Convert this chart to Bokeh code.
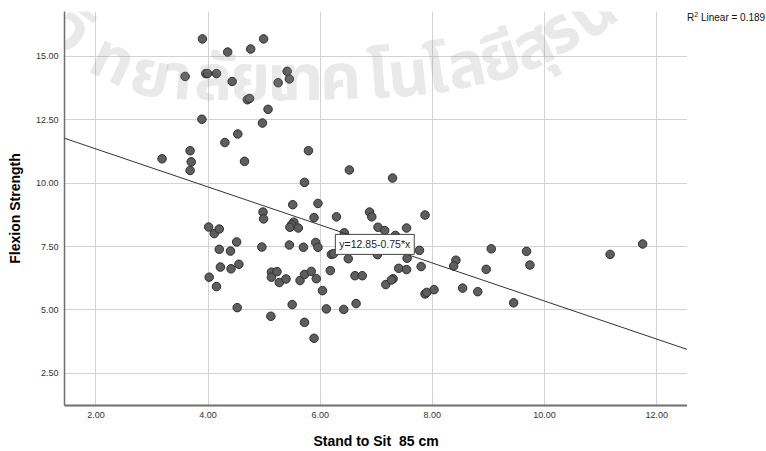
import math
from bokeh.plotting import figure
from bokeh.models import Slope, Label, Range1d, FixedTicker, PrintfTickFormatter, Div
from bokeh.layouts import row
from bokeh.embed import file_html
from bokeh.resources import INLINE

# ---- data ----
stand_to_sit = [
    3.18, 3.59, 3.68, 3.70, 3.68, 3.89, 3.90, 3.96, 3.99, 4.15,
    4.30, 4.35, 4.43, 4.53, 4.65, 4.70, 4.74, 4.76, 4.97, 4.99,
    5.07, 5.25, 5.41, 5.45, 5.72, 5.79, 6.52, 7.29,
    4.98, 4.99, 5.51, 5.96, 5.89, 6.29, 6.88, 6.92, 7.87, 5.53,
    5.49, 5.46, 5.61, 6.43, 4.01, 4.11, 4.20, 4.51, 4.20, 4.40,
    4.96, 4.22, 4.41, 4.55, 4.02, 4.15, 4.52, 5.12, 5.13, 5.13,
    5.23, 5.27, 5.39, 5.50, 5.45, 5.70, 5.64, 5.72, 5.84, 5.72,
    5.89, 5.92, 5.96, 5.93, 6.04, 6.11, 6.18, 6.20, 6.24, 6.42,
    6.50, 6.62, 6.64, 6.75, 7.03, 7.02, 7.15, 7.17, 7.34, 7.54,
    7.77, 7.55, 7.40, 7.54, 7.80, 7.30, 7.27, 7.87, 7.90, 8.03,
    8.42, 8.38, 8.54, 8.81, 8.96, 9.05, 9.45, 9.68, 9.74, 11.17,
    11.75,
]
flexion_strength = [
    10.96, 14.21, 11.28, 10.84, 10.50, 12.52, 15.69, 14.32, 14.32, 14.32,
    11.60, 15.17, 14.01, 11.94, 10.86, 13.29, 13.34, 15.29, 12.37, 15.69,
    12.91, 13.96, 14.41, 14.11, 10.03, 11.28, 10.52, 10.20,
    8.86, 8.59, 9.15, 9.20, 8.64, 8.67, 8.86, 8.67, 8.74, 8.46,
    8.36, 8.26, 8.23, 8.04, 8.27, 8.01, 8.19, 7.68, 7.39, 7.32,
    7.48, 6.69, 6.62, 6.80, 6.29, 5.92, 5.09, 4.75, 6.49, 6.29,
    6.51, 6.08, 6.22, 5.21, 7.56, 7.47, 6.16, 6.40, 6.52, 4.51,
    3.88, 7.66, 7.47, 6.23, 5.76, 5.04, 6.55, 7.19, 7.22, 5.02,
    7.02, 6.35, 5.25, 6.35, 8.26, 7.18, 8.13, 6.00, 7.94, 8.23,
    7.35, 7.04, 6.64, 6.59, 6.71, 6.23, 6.18, 5.63, 5.69, 5.80,
    6.96, 6.73, 5.86, 5.72, 6.60, 7.41, 5.28, 7.31, 6.77, 7.19,
    7.60,
]
fit_intercept = 12.85
fit_slope = -0.75
r2_linear = 0.189
x_ticks = [2.0, 4.0, 6.0, 8.0, 10.0, 12.0]
y_ticks = [2.5, 5.0, 7.5, 10.0, 12.5, 15.0]
x_title = "Stand to Sit\u00a0 85 cm"
y_title = "Flexion Strength"
equation_text = "y=12.85-0.75*x"
watermark = ["า", "วิ", "ท", "ย", "า", "ลั", "ย", "เ", "ท", "ค", "โ", "น",
             "โ", "ล", "ยี", "สุ", "ร", "น", "า", "รี"]

FONT = "Liberation Sans"
THAI_FONT = "Noto Sans Thai, Waree, Sawasdee, Umpush, Loma, Garuda, Noto Sans"

p = figure(width=687, height=451, output_backend="svg", toolbar_location=None,
           x_range=Range1d(1.44, 12.55), y_range=Range1d(1.23, 16.77),
           min_border_left=64, min_border_right=0, min_border_top=11,
           min_border_bottom=45)
p.background_fill_color = "white"
p.border_fill_color = "white"
p.outline_line_color = None

# axes
for ax in (p.xaxis[0], p.yaxis[0]):
    ax.major_tick_line_color = None
    ax.minor_tick_line_color = None
    ax.major_tick_out = 0
    ax.major_tick_in = 0
    ax.major_label_text_font = FONT
    ax.major_label_text_font_size = "9px"
    ax.major_label_text_color = "#333333"
    ax.axis_label_text_font = FONT
    ax.axis_label_text_font_size = "14px"
    ax.axis_label_text_font_style = "bold"
    ax.axis_label_text_color = "#000000"
    ax.axis_line_color = "#6e6e6e"
    ax.major_label_standoff = 6
    ax.formatter = PrintfTickFormatter(format="%.2f")

p.xaxis.ticker = FixedTicker(ticks=x_ticks)
p.yaxis.ticker = FixedTicker(ticks=y_ticks)
p.xaxis.axis_line_width = 2
p.yaxis.axis_line_width = 1.5
p.xaxis.axis_label = x_title
p.yaxis.axis_label = y_title
p.xaxis.axis_label_standoff = 12
p.yaxis.axis_label_standoff = 10

p.xgrid.ticker = FixedTicker(ticks=x_ticks)
p.ygrid.ticker = FixedTicker(ticks=y_ticks)
for g in (p.xgrid[0], p.ygrid[0]):
    g.grid_line_color = "#d2d2d2"
    g.grid_line_width = 1

# points
p.scatter(stand_to_sit, flexion_strength, size=8.5, fill_color="#5e5e5e",
          line_color="#2e2e2e", line_width=1)

# fit line
p.add_layout(Slope(gradient=fit_slope, y_intercept=fit_intercept,
                   line_color="#333333", line_width=1))

# equation label
p.add_layout(Label(x=6.27, y=7.19, text=equation_text, text_font=FONT,
                   text_font_size="10.5px", text_color="#222222",
                   text_baseline="bottom", text_align="left",
                   background_fill_color="white", border_line_color="#444444",
                   padding=4))

# watermark along an arc (canvas px center-x, baseline-y, angle deg)
wm_pos = [(50, 18, -45), (70, 32, -38), (112, 62, -25), (150, 77, -12),
          (178, 80, -5), (213, 81, -2), (250, 81, 0), (277, 81, 0),
          (302, 81, 0), (340, 80, 2), (378, 79, 4), (408, 77, 6),
          (436, 74, 9), (466, 68, 12), (500, 60, 18), (533, 48, 25),
          (560, 33, 32), (593, 15, 38), (618, -3, 45), (640, -24, 50)]
for ch, (cx, cy, ang) in zip(watermark, wm_pos):
    p.add_layout(Label(x=cx - 64, y=406 - cy, x_units="screen", y_units="screen",
                       text=ch, text_font=THAI_FONT, text_font_size="64px",
                       text_font_style="bold", text_color="#909090",
                       text_alpha=0.2, text_align="center",
                       text_baseline="alphabetic", angle=math.radians(ang)))

# R^2 note in the right margin
r2_div = Div(
    text=("<div style=\"position:absolute;left:0px;top:10px;white-space:nowrap;"
          "font-family:'Liberation Sans';font-size:10px;color:#111;\">"
          "R<sup style=\"font-size:7px\">2</sup> Linear = %.3f</div>" % r2_linear),
    width=79, height=451, margin=(0, 0, 0, 0))

layout = row(p, r2_div, spacing=0)
open("out.html", "w").write(file_html(layout, INLINE))
